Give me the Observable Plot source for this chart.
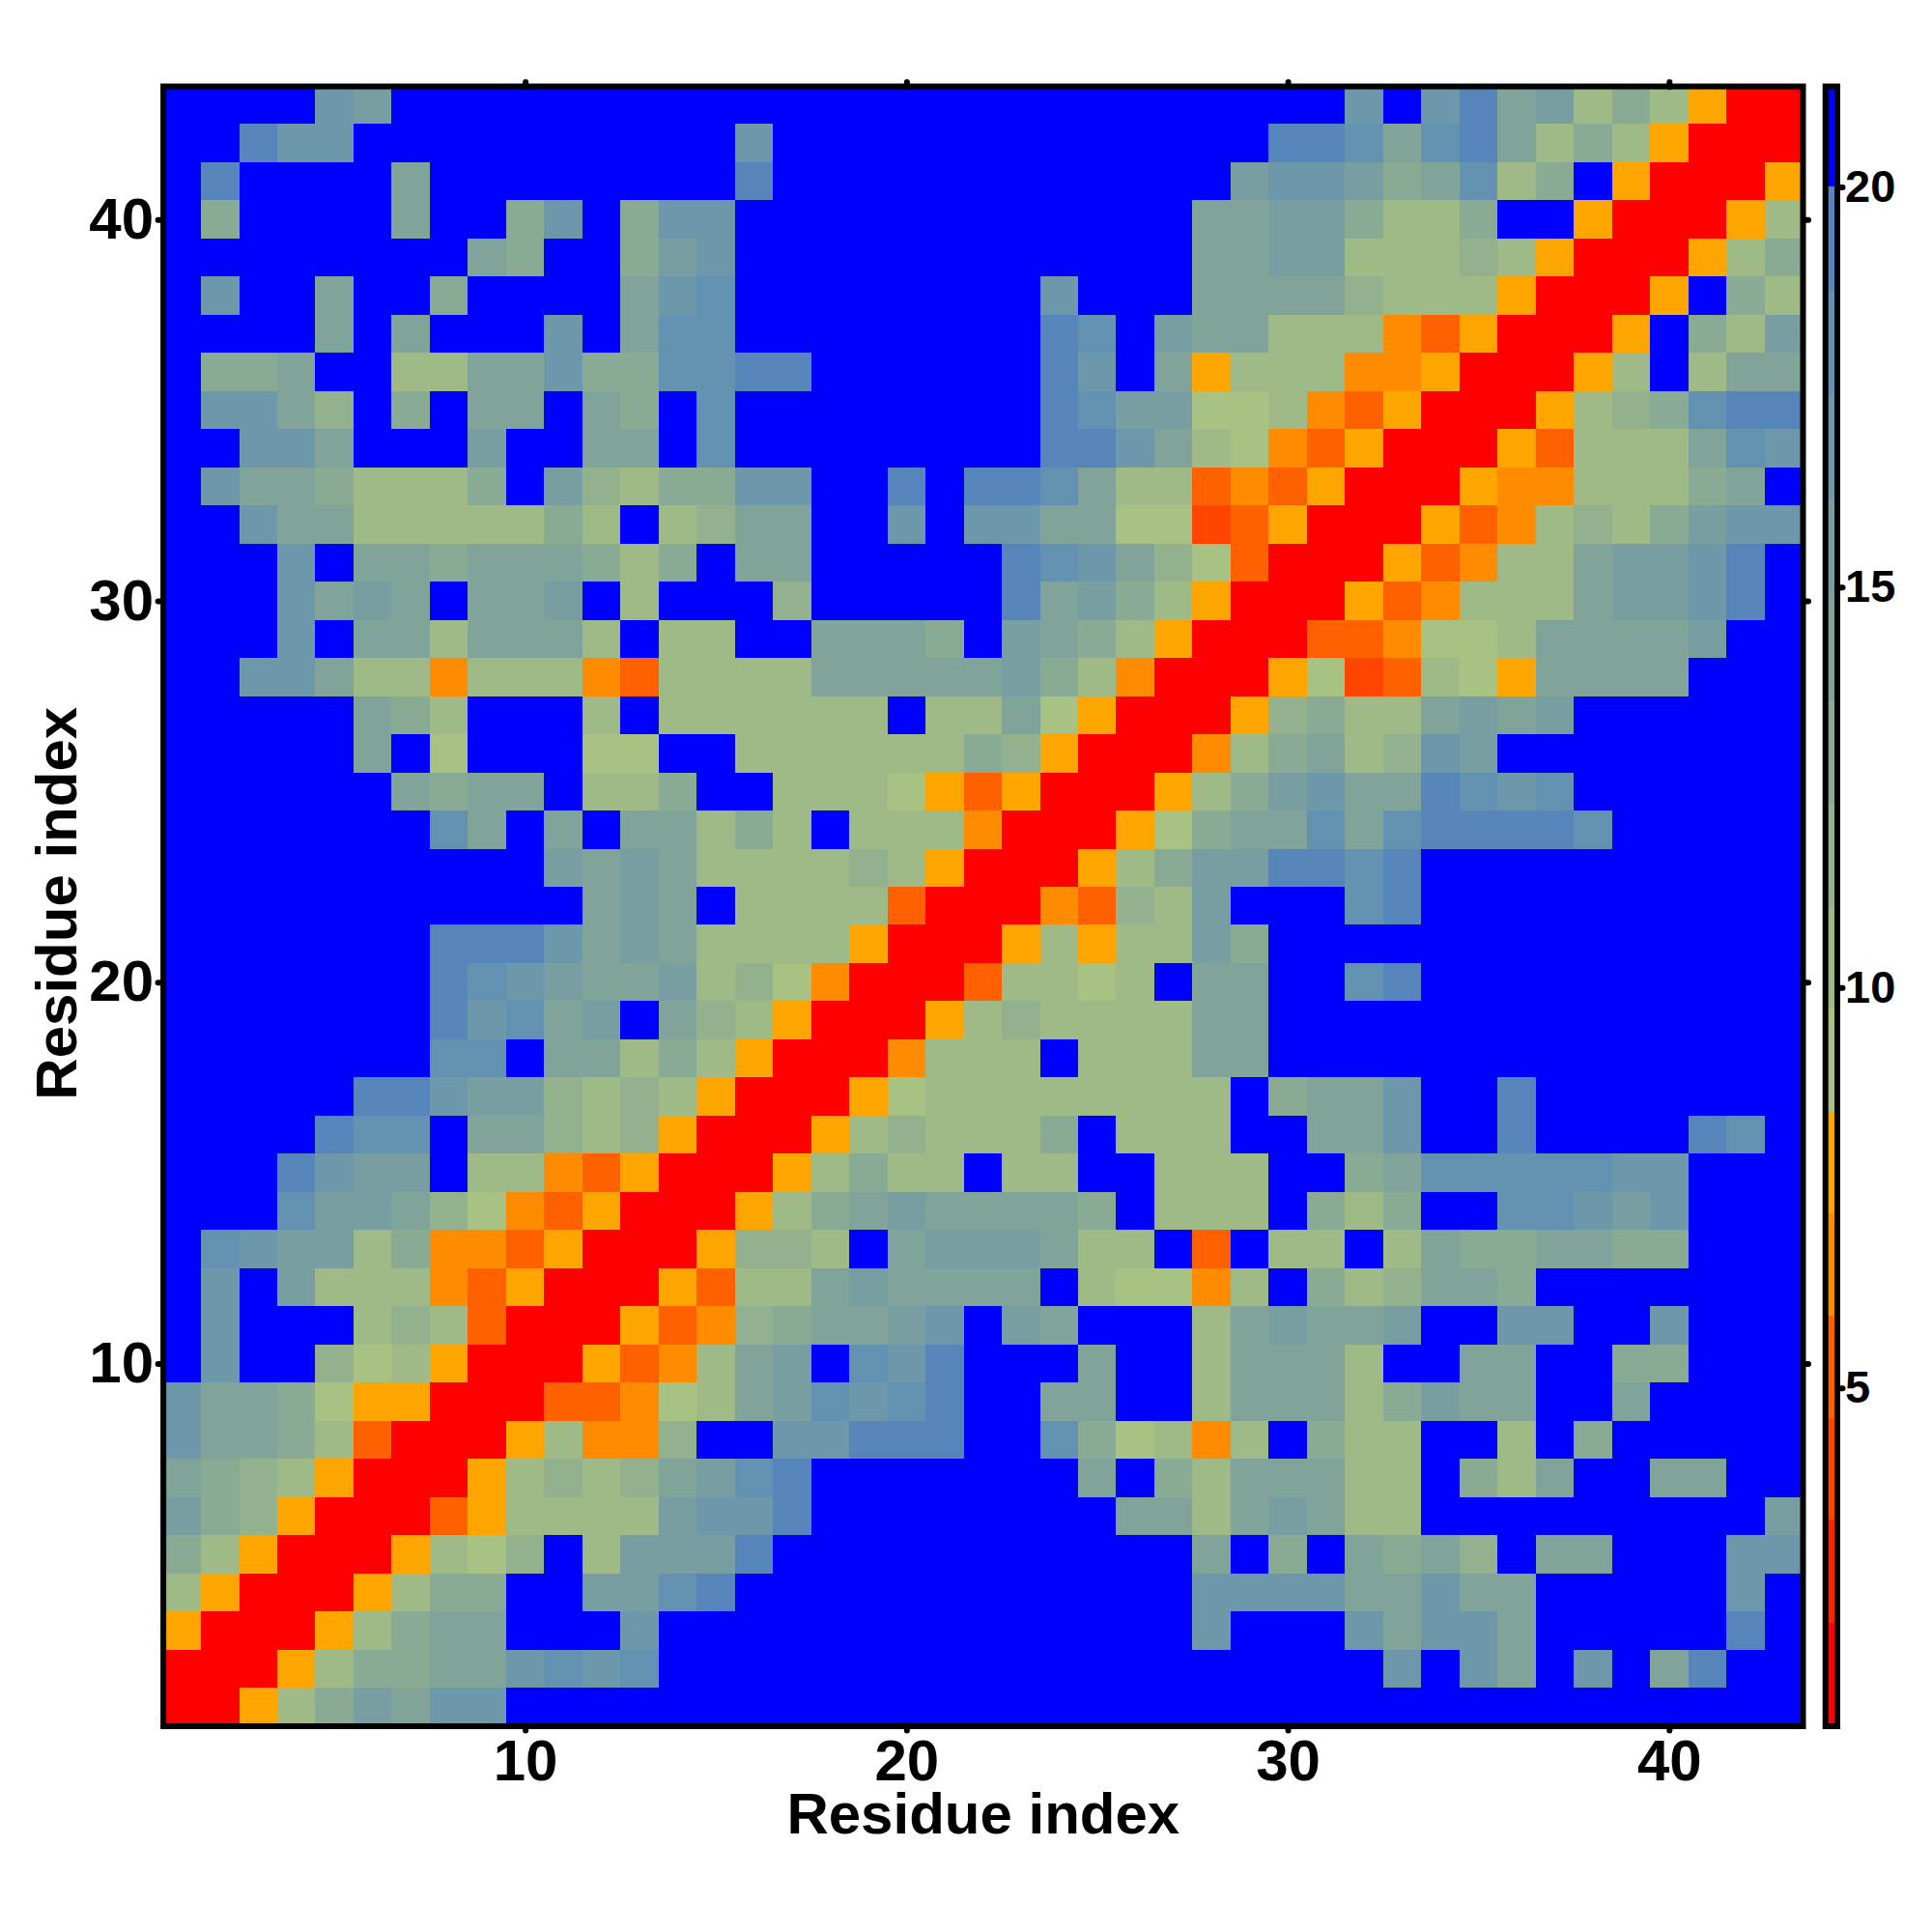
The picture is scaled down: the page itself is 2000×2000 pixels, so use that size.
<!DOCTYPE html>
<html>
<head>
<meta charset="utf-8">
<script src="https://cdn.jsdelivr.net/npm/d3@7"></script>
<script src="https://cdn.jsdelivr.net/npm/@observablehq/plot@0.6"></script>
<style>
html,body{margin:0;padding:0;background:#fff;}
#chart{position:relative;width:2000px;height:2000px;overflow:hidden;}
#chart svg{position:absolute;top:0;display:block;}
</style>
</head>
<body>
<div id="chart"></div>
<script>
// Contact-map class of every residue pair.
// First string is residue y = 43 (top), last is y = 1; characters run x = 1..43.
const rows = [
"BBBBkjBBBB BBBBBBBBBB BBBBBBBBBB BkBkmijfhf drr",
"BBmkkBBBBB BBBBBkBBBB BBBBBBBBBm mlilmifhfd rrr",
"BmBBBBiBBB BBBBBmBBBB BBBBBBBBjk kjhilfhBdr rrd",
"BhBBBBiBBh kBhkkBBBBB BBBBBBBiij jhffhBBdrr rdf",
"BBBBBBBBih BBhjkBBBBB BBBBBBBiij jfffgfdrrr dfh",
"BkBBiBBhBB BBiklBBBBB BBBkBBBiii igfffdrrrd Bhf",
"BBBBiBiBBB kBillBBBBB BBBmlBjiif ffcbdrrrdB hfj",
"BhhiBBffii khhllmmBBB BBBmkBidff fccdrrrdfB fii",
"BkkigBhBii BihBlBBBBB BBBmljjeef cbdrrrdfgh lmm",
"BBkkiBBBjB BiiBlBBBBB BBBmmkifec bdrrrdbfff ilk",
"BkiihfffhB jgfhhkkBBm Bmmliffbcb drrrdccfff hiB",
"BBkiifffff hfBfgiiBBk Bkkiieeabd rrrdbcfgfh jkk",
"BBBkBiihii ihfhBiiBBB BBmlkigebr rrdbcffijj kmB",
"BBBkijiBii jBfBBBgBBB BBmijhfdrr rdbcfffijj kmB",
"BBBkBiifii ifBffBBiii hBjihfdrrr bbceefiiii jBB",
"BBkkiffcff fcbffffiii iijhfcrrrd eabfediiii BBB",
"BBBBBihfBB BfBffffffB ffiedrrrdg hffijijBBB BBB",
"BBBBBiBeBB BeeBBfffff fhgdrrrcfh ifgkjBBBBB BBB",
"BBBBBBihii BffhBBfffe dbdrrrdfhj kiimlklBBB BBB",
"BBBBBBBliB iBiifhfBff fcrrrdehii lilmmmmlBB BBB",
"BBBBBBBBBB jijiffffgf drrrdfhjjm mlmBBBBBBB BBB",
"BBBBBBBBBB BijiBffffb rrrcbgfjBB BlmBBBBBBB BBB",
"BBBBBBBmmm kijiffffdr rrdfdffjhB BBBBBBBBBB BBB",
"BBBBBBBmlk jiijfgecrr rbffefBiiB BlmBBBBBBB BBB",
"BBBBBBBmkl ijBigfdrrr dfgffffiiB BBBBBBBBBB BBB",
"BBBBBBBllB iifhfdrrrc fffBfffiiB BBBBBBBBBB BBB",
"BBBBBmmkjj gfgfdrrrde ffffffffBh iikBBmBBBB BBB",
"BBBBmllBii gfgdrrrdfg fffhBfffBB iikBBmBBBB mlB",
"BBBmkjjBff cbdrrrdfhf fBffBBfffB Bhilllllkk BBB",
"BBBljjigec bdrrrdfhij iiiihBfffB hfhBBllkjk BBB",
"Blkjjfhccb drrrdggfBi jjjiffBbBf fBfihhiihh BBB",
"BkBjfffcbd rrrdbffiji iiiBfeecfB hfgiihBBBB BBB",
"BkBBBfgfbr rrdbcghiij kBjiBBBfij iijBBkkBBk BBB",
"BkBBgefdrr rdbcfijBlk mBBBiBBfii ifBBiiBBhh BBB",
"kiiheddrrr bbcefijlkl mBBiiBBfii ifhjiiBBiB BBB",
"kiihfbrrrd fccgBBkkmm mBBlhefcfB hffBBfBhBB BBB",
"ihgfdrrrdf gfgijlmBBB BBBBiBhfii iffBhfiBBi iBB",
"jhgdrrrbdf fffjkkmBBB BBBBBiifij iffBBBBBBB BBj",
"hfdrrrdfeg BfjjjmBBBB BBBBBBBiBh BihigBiiBB Bkk",
"fdrrrdfhhB BjjlmBBBBB BBBBBBBkkk kiikiiBBBB BkB",
"drrrdfhiiB BBkBBBBBBB BBBBBBBkBB BkikkiBBBB BmB",
"rrrdfhhiik lklBBBBBBB BBBBBBBBBB BBkBkiBkBi mBB",
"rrdfhjikkB BBBBBBBBBB BBBBBBBBBB BBBBBBBBBB BBB"
];
// Distance read for each class letter
const classValue = {r:1.4,a:4.0,b:5.3,c:6.6,d:7.8,e:9.1,f:10.4,g:11.7,h:13.0,i:14.2,j:15.5,k:16.8,l:18.1,m:19.3,B:20.6};
// Colour key
const barDomain = [0.78,21.26];
const barBreaks = [2.07,3.35,4.62,5.9,7.18,8.45,9.74,11.01,12.29,13.57,14.85,16.12,17.4,18.7,20.0];
const barColors = ["#ff0000","#ff2000","#ff4500","#ff6000","#ff8c00","#ffa500","#a8c283","#9fba87","#93b18c","#8aab93","#80a39a","#789ea2","#6d98aa","#6391b2","#5585ba","#0000ff"];
const residueTicks = [10,20,30,40];
const barTicks = [5,10,15,20];
const axisTitle = "Residue index";

const font = "'Liberation Sans', Arial, Helvetica, sans-serif";
const cells = [];
rows.forEach((s,i)=>{
  const chars = s.replace(/ /g,"");
  if(chars.length!==43) console.error("row",i,chars.length);
  [...chars].forEach((c,j)=>cells.push({x:j+1,y:43-i,v:classValue[c]}));
});
const colorScale = {type:"threshold",domain:barBreaks,range:barColors};
const tickStyle = {tickSize:5,strokeWidth:6,strokeLinecap:"round",label:null};
const labelStyle = {fontSize:60,fontWeight:"bold",fill:"black"};

const main = Plot.plot({
  width:2000,height:2000,
  marginLeft:168.6,marginRight:134,marginTop:89,marginBottom:213.5,
  style:{fontFamily:font,background:"white",overflow:"visible"},
  x:{domain:[0.5,43.5]},
  y:{domain:[0.5,43.5]},
  color:colorScale,
  marks:[
    Plot.rect(cells,{x1:d=>d.x-0.5,x2:d=>d.x+0.5,y1:d=>d.y-0.5,y2:d=>d.y+0.5,fill:"v",shapeRendering:"crispEdges"}),
    Plot.frame({stroke:"black",strokeWidth:6}),
    Plot.axisX({anchor:"bottom",ticks:residueTicks,tickPadding:8,...tickStyle,...labelStyle}),
    Plot.axisX({anchor:"top",ticks:residueTicks,tickFormat:()=>"",...tickStyle}),
    Plot.axisY({anchor:"left",ticks:residueTicks,tickPadding:5,...tickStyle,...labelStyle}),
    Plot.axisY({anchor:"right",ticks:residueTicks,tickFormat:()=>"",...tickStyle}),
    Plot.text([axisTitle],{frameAnchor:"bottom",lineAnchor:"bottom",dy:111,fontSize:60,fontWeight:"bold",fill:"black"}),
    Plot.text([axisTitle],{frameAnchor:"left",textAnchor:"middle",rotate:-90,dx:-109,dy:-3,fontSize:60,fontWeight:"bold",fill:"black"})
  ]
});
main.style.left="0px";

const edges = [barDomain[0],...barBreaks,barDomain[1]];
const bands = barColors.map((c,i)=>({y1:edges[i],y2:edges[i+1],v:(edges[i]+edges[i+1])/2}));
const bar = Plot.plot({
  width:140,height:2000,
  marginLeft:29.2,marginRight:98.5,marginTop:89,marginBottom:213.5,
  style:{fontFamily:font,background:"transparent",overflow:"visible"},
  y:{domain:barDomain},
  color:colorScale,
  marks:[
    Plot.rect(bands,{y1:"y1",y2:"y2",fill:"v",shapeRendering:"crispEdges"}),
    Plot.frame({stroke:"black",strokeWidth:6}),
    Plot.axisY({anchor:"right",ticks:barTicks,tickPadding:3,...tickStyle,fontSize:47,fontWeight:"bold",fill:"black"})
  ]
});
bar.style.left="1860px";
const chart=document.getElementById("chart");
chart.append(main,bar);
</script>
</body>
</html>
